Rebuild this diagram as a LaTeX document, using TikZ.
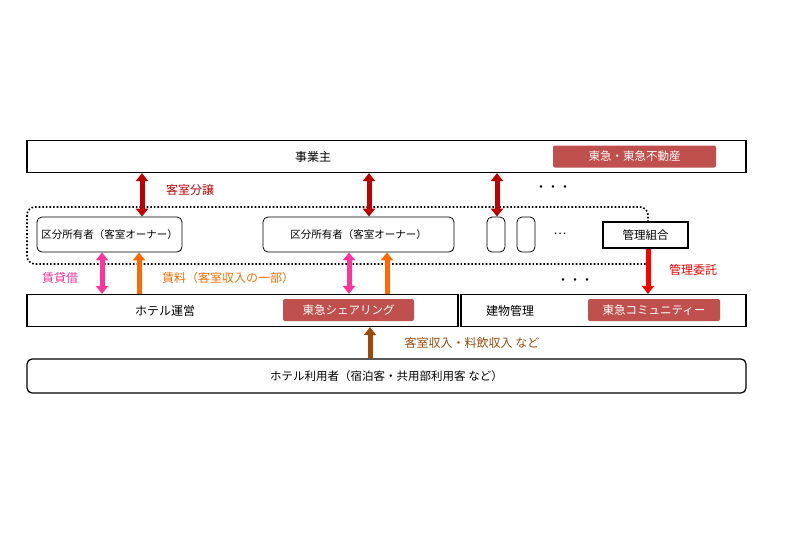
\documentclass[tikz,border=0pt]{standalone}
\usepackage{fontspec}
\setmainfont{Noto Sans CJK JP}
\usetikzlibrary{arrows.meta,positioning}
\definecolor{tagred}{HTML}{C0504D}
\definecolor{darkred}{HTML}{C00000}
\definecolor{hotpink}{HTML}{FF3399}
\definecolor{orng}{HTML}{FF6A00}
\definecolor{brwn}{HTML}{9C4A0A}
\tikzset{
	basic/.style = {draw, thick, inner sep=0pt, font=\fontsize{11.5}{13}\selectfont},
	bar/.style = {basic, very thick, minimum height=32pt},
	owner/.style = {basic, rounded corners=5pt, minimum height=35pt, font=\fontsize{10.5}{12}\selectfont},
	tag/.style = {fill=tagred, text=white, rounded corners=2pt, minimum height=22pt, inner sep=0pt, font=\fontsize{11.5}{13}\selectfont},
	lbl/.style = {font=\fontsize{12}{14}\selectfont},
	blk/.style = {line width=5pt, -{Triangle[width=12pt,length=8pt]}},
	dblk/.style = {line width=5pt, {Triangle[width=12pt,length=8pt]}-{Triangle[width=12pt,length=8pt]}}
}
\begin{document}
\begin{tikzpicture}[x=1pt,y=-1pt]
	\useasboundingbox (0,0) rectangle (800,533);
	% top row
	\node[bar, minimum width=719pt] (owner) at (386.5,156.5) {};
	\node[lbl] (ownert) at (313,157) {事業主};
	\node[tag, minimum width=163pt] (tokyu) at (634.5,156.5) {東急・東急不動産};
	% dotted group
	\draw[dotted, line width=1.6pt, rounded corners=8pt] (648,222) -- (648,207) -- (27,207) -- (27,264) -- (648,264);
	% owners
	\node[owner, minimum width=145pt] (o1) at (109.5,234.5) {区分所有者（客室オーナー）};
	\node[owner, minimum width=191pt] (o2) at (358.5,234.5) {区分所有者（客室オーナー）};
	\node[owner, minimum width=18pt] (o3) at (496,234.5) {};
	\node[owner, minimum width=18pt] (o4) at (526,234.5) {};
	\node[lbl] (dots1) at (560,234) {…};
	\node[basic, very thick, minimum width=85pt, minimum height=26pt] (union) at (645.5,235) {管理組合};
	\node[lbl] (dots2) at (553,189) {・・・};
	% middle row
	\node[bar, minimum width=431pt] (hotel) at (242.5,310.5) {};
	\node[lbl] (hotelt) at (165,311) {ホテル運営};
	\node[tag, minimum width=131pt] (share) at (348.5,310) {東急シェアリング};
	\node[bar, minimum width=285pt] (bldg) at (603.5,310.5) {};
	\node[lbl] (bldgt) at (510,311) {建物管理};
	\node[tag, minimum width=132pt] (comm) at (654,310) {東急コミュニティー};
	\node[lbl] (dots3) at (575,282) {・・・};
	% bottom row
	\node[basic, very thick, rounded corners=5pt, minimum width=719pt, minimum height=34pt] (guest) at (386.5,376) {ホテル利用者（宿泊客・共用部利用客 など）};
	% arrow columns
	\foreach \n/\px in {a/142,b/369,c/497,d/102,e/349,f/139,g/387,h/648,k/370}
	\coordinate (x\n) at (\px,0);
	% arrows
	\draw[dblk, darkred] (owner.south -| xa) -- (o1.north -| xa);
	\draw[dblk, darkred] (owner.south -| xb) -- (o2.north -| xb);
	\draw[dblk, darkred] (owner.south -| xc) -- (o3.north -| xc);
	\node[lbl, text=darkred] (sale) at (190,190) {客室分譲};
	\draw[dblk, hotpink] (o1.south -| xd) -- (hotel.north -| xd);
	\draw[dblk, hotpink] (o2.south -| xe) -- (hotel.north -| xe);
	\draw[blk, orng] (hotel.north -| xf) -- (o1.south -| xf);
	\draw[blk, orng] (hotel.north -| xg) -- (o2.south -| xg);
	\node[lbl, text=hotpink] (lease) at (60,278) {賃貸借};
	\node[lbl, text=orng] (rent) at (228,278) {賃料（客室収入の一部）};
	\draw[blk, red] (union.south -| xh) -- (bldg.north -| xh);
	\node[lbl, text=red] (entrust) at (693,270) {管理委託};
	\draw[blk, brwn] (guest.north -| xk) -- (hotel.south -| xk);
	\node[lbl, text=brwn] (income) at (472,343) {客室収入・料飲収入 など};
\end{tikzpicture}
\end{document}
